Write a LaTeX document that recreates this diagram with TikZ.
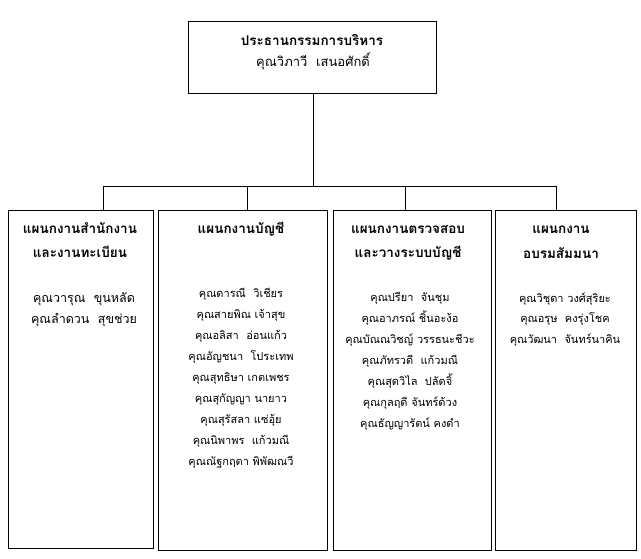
\documentclass[tikz,border=0pt]{standalone}
\usepackage{fontspec}
\newfontfamily\thai[Script=Thai]{Loma}
\begin{document}
\begin{tikzpicture}[x=1pt,y=-1pt,
  box/.style={draw, line width=1pt, inner sep=0pt},
  wire/.style={line width=1pt},
  hd/.style={font=\thai\bfseries\fontsize{13.5}{15}\selectfont, inner sep=0pt, anchor=base},
  nm/.style={font=\thai\fontsize{11}{13}\selectfont, inner sep=0pt, anchor=base},
  nmbig/.style={nm, font=\thai\fontsize{12.5}{14}\selectfont}]
\useasboundingbox (0,0) rectangle (641,558);
% boxes
\node[box, minimum width=248pt, minimum height=72pt] (top) at (312,57) {};
\node[box, minimum width=145pt, minimum height=338pt] (b1) at (80.5,379) {};
\node[box, minimum width=169pt, minimum height=340pt] (b2) at (242.5,380) {};
\node[box, minimum width=158pt, minimum height=340pt] (b3) at (412,380) {};
\node[box, minimum width=141pt, minimum height=340pt] (b4) at (565.5,380) {};
% connectors
\coordinate (bus) at (313,186);
\coordinate (j1) at (103,186);
\coordinate (j2) at (247,186);
\coordinate (j3) at (405,186);
\coordinate (j4) at (556,186);
\draw[wire] (top.south -| bus) -- (bus);
\draw[wire] (j1) -- (j4);
\draw[wire] (j1) -- (j1 |- b1.north);
\draw[wire] (j2) -- (j2 |- b2.north);
\draw[wire] (j3) -- (j3 |- b3.north);
\draw[wire] (j4) -- (j4 |- b4.north);
% top text
\node[hd] (t1) at (312,45) {ประธานกรรมการบริหาร};
\node[nmbig, font=\thai\fontsize{13}{15}\selectfont] (t2) at (313,66) {คุณวิภาวี\ \ เสนอศักดิ์};
% column 1
\node[hd] (h11) at (80,233) {แผนกงานสำนักงาน};
\node[hd] (h12) at (80,257) {และงานทะเบียน};
\node[nmbig] (n11) at (84,302) {คุณวารุณ\ \ ขุนหลัด};
\node[nmbig] (n12) at (84,323) {คุณลำดวน\ \ สุขช่วย};
% column 2
\node[hd] (h21) at (241,233) {แผนกงานบัญชี};
\node[nm] (n21) at (241,297) {คุณดารณี\ \ วิเชียร};
\node[nm] (n22) at (241,318) {คุณสายพิณ เจ้าสุข};
\node[nm] (n23) at (241,339) {คุณอลิสา\ \ อ่อนแก้ว};
\node[nm] (n24) at (241,360) {คุณอัญชนา\ \ โประเทพ};
\node[nm] (n25) at (241,381) {คุณสุทธิษา เกตเพชร};
\node[nm] (n26) at (241,402) {คุณสุกัญญา นายาว};
\node[nm] (n27) at (241,423) {คุณสุรัสลา แซ่อุ้ย};
\node[nm] (n28) at (241,444) {คุณนิพาพร\ \ แก้วมณี};
\node[nm] (n29) at (241,465) {คุณณัฐกฤตา พิพัฒณวี};
% column 3
\node[hd] (h31) at (408,233) {แผนกงานตรวจสอบ};
\node[hd] (h32) at (408,257) {และวางระบบบัญชี};
\node[nm] (n31) at (410,301) {คุณปรียา\ \ จันชุม};
\node[nm] (n32) at (410,322) {คุณอาภรณ์ ชิ้นอะง้อ};
\node[nm] (n33) at (410,343) {คุณบัณณวิชญ์ วรรธนะชีวะ};
\node[nm] (n34) at (410,364) {คุณภัทรวดี\ \ แก้วมณี};
\node[nm] (n35) at (410,385) {คุณสุดวิไล\ \ ปลัดจิ้};
\node[nm] (n36) at (410,406) {คุณกุลฤดี จันทร์ด้วง};
\node[nm] (n37) at (410,427) {คุณธัญญารัตน์ คงดำ};
% column 4
\node[hd] (h41) at (561,233) {แผนกงาน};
\node[hd] (h42) at (561,258) {อบรมสัมมนา};
\node[nm] (n41) at (565,302) {คุณวิชุดา วงศ์สุริยะ};
\node[nm] (n42) at (565,322) {คุณอรุษ\ \ คงรุ่งโชค};
\node[nm] (n43) at (565,343) {คุณวัฒนา\ \ จันทร์นาคิน};
\end{tikzpicture}
\end{document}
